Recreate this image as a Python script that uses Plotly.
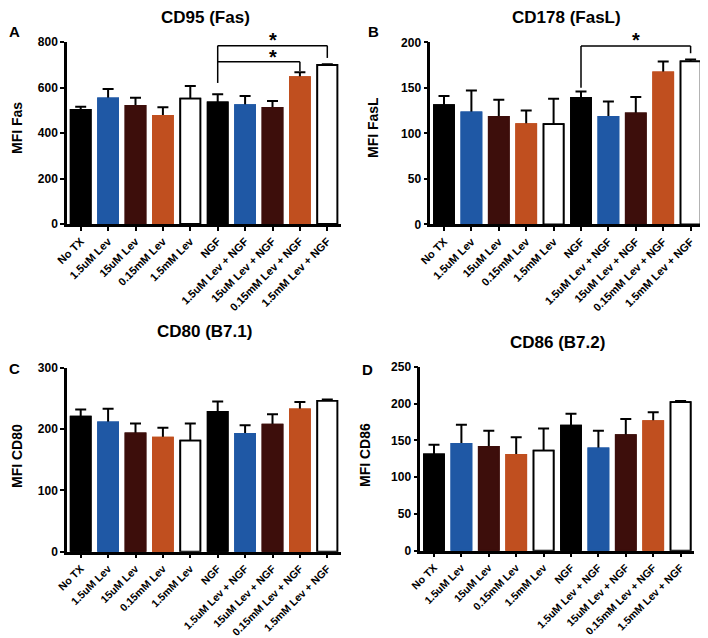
import plotly.graph_objects as go

# treatment groups, left to right
GROUPS = [
    "No TX", "1.5uM Lev", "15uM Lev", "0.15mM Lev", "1.5mM Lev",
    "NGF", "1.5uM Lev + NGF", "15uM Lev + NGF", "0.15mM Lev + NGF", "1.5mM Lev + NGF",
]
BAR_COLORS = ["#000000", "#1f58a5", "#3d0e0b", "#c04f1f", "#ffffff"] * 2

# mean MFI and SEM per panel
FAS_MEAN = [501, 552, 519, 475, 551, 535, 522, 510, 646, 699]
FAS_ERR = [14, 41, 36, 38, 56, 35, 41, 31, 21, 3]

FASL_MEAN = [131, 123, 118, 110, 110, 139, 118, 122, 167, 179]
FASL_ERR = [10, 24, 19, 15, 28, 7, 17, 18, 12, 2]

CD80_MEAN = [220, 211, 193, 186, 181, 228, 192, 207, 232, 246]
CD80_ERR = [12, 22, 16, 16, 28, 17, 14, 17, 12, 2]

CD86_MEAN = [131, 145, 141, 130, 136, 170, 139, 157, 176, 202]
CD86_ERR = [13, 26, 22, 24, 30, 16, 24, 22, 12, 1.5]

FONT = "Liberation Sans, Arial, sans-serif"

# (letter, title, y title, mean, err, y max, dtick, x domain, y domain, title pos, letter pos, ytitle pos, x tick size)
# all positions in window pixels
PANELS = [
    ("A", "CD95 (Fas)", "MFI Fas", FAS_MEAN, FAS_ERR, 800, 200,
     (67, 341), (224, 42), (205, 18), (14, 32), (17, 128), 11),
    ("B", "CD178 (FasL)", "MFI FasL", FASL_MEAN, FASL_ERR, 200, 50,
     (430.3, 704.3), (224.3, 42.3), (566, 18), (373, 32), (373, 128), 11),
    ("C", "CD80 (B7.1)", "MFI CD80", CD80_MEAN, CD80_ERR, 300, 100,
     (67, 341), (551.7, 367.7), (204, 331), (14, 368), (17, 456), 10.6),
    ("D", "CD86 (B7.2)", "MFI CD86", CD86_MEAN, CD86_ERR, 250, 50,
     (420.3, 694.3), (550.7, 366.7), (557, 342), (368, 369), (365, 455), 10.6),
]

# the page body has an 8px margin, so the figure starts at (8, 8)
OFF = 8
W, H = 708 - OFF, 638 - OFF


def px(x):
    return (x - OFF) / W


def py(y):
    return 1 - (y - OFF) / H


def label(x, y, text, size, angle=0, yanchor="middle"):
    fig.add_annotation(x=px(x), y=py(y), xref="paper", yref="paper",
                       xanchor="center", yanchor=yanchor, textangle=angle,
                       text="<b>%s</b>" % text, showarrow=False,
                       font=dict(family=FONT, size=size, color="#000000"))


fig = go.Figure()
layout = {}
x_idx = list(range(len(GROUPS)))
line_cols = ["#000000" if c == "#ffffff" else c for c in BAR_COLORS]

for i, (letter, title, ytitle, mean, err, ymax, dtick, xd, yd, tpos, lpos, ypos, tsize) in enumerate(PANELS):
    n = "" if i == 0 else str(i + 1)
    xa, ya = "x" + n, "y" + n
    # bars with error bars, then the same bars again on top to hide the lower half
    fig.add_trace(go.Bar(
        x=x_idx, y=mean, xaxis=xa, yaxis=ya,
        marker=dict(color=BAR_COLORS, line=dict(color=line_cols, width=1.8)),
        error_y=dict(type="data", array=err, symmetric=True, color="#000000",
                     thickness=2, width=5.5),
        hoverinfo="skip",
    ))
    fig.add_trace(go.Bar(
        x=x_idx, y=mean, xaxis=xa, yaxis=ya,
        marker=dict(color=BAR_COLORS, line=dict(color=line_cols, width=1.8)),
        hoverinfo="skip",
    ))
    layout["xaxis" + n] = dict(
        domain=[px(xd[0]), px(xd[1])], range=[-0.5, 9.5], anchor=ya, automargin=False,
        tickvals=x_idx, ticktext=GROUPS, tickangle=-45,
        tickfont=dict(family=FONT, size=tsize, color="#000000", weight="bold"),
        showline=True, linecolor="#000000", linewidth=2.5,
        ticks="outside", ticklen=4, tickwidth=2, tickcolor="#000000",
        showgrid=False, zeroline=False, fixedrange=True,
    )
    layout["yaxis" + n] = dict(
        domain=[py(yd[0]), py(yd[1])], range=[0, ymax], anchor=xa, automargin=False,
        dtick=dtick, tickfont=dict(family=FONT, size=12, color="#000000", weight="bold"),
        showline=True, linecolor="#000000", linewidth=2.5,
        ticks="outside", ticklen=4, tickwidth=2, tickcolor="#000000",
        showgrid=False, zeroline=False, fixedrange=True,
    )
    label(tpos[0], tpos[1], title, 17)
    label(lpos[0], lpos[1], letter, 15)
    label(ypos[0], ypos[1], ytitle, 14, angle=-90)


def bracket(p, x0, x1, y, y0_drop, y1_drop, star_px):
    n = "" if p == 0 else str(p + 1)
    xa, ya = "x" + n, "y" + n
    seg = dict(type="line", xref=xa, yref=ya, line=dict(color="#000000", width=1.5))
    fig.add_shape(x0=x0, x1=x1, y0=y, y1=y, **seg)
    fig.add_shape(x0=x0, x1=x0, y0=y, y1=y0_drop, **seg)
    fig.add_shape(x0=x1, x1=x1, y0=y, y1=y1_drop, **seg)
    # star sits above the axis range, so place it in paper coordinates
    xd = PANELS[p][7]
    sx = xd[0] + (7 + 0.5) / 10 * (xd[1] - xd[0])
    label(sx, star_px, "*", 20, yanchor="top")


ngf = GROUPS.index("NGF")
# panel A: NGF vs 0.15mM Lev + NGF and NGF vs 1.5mM Lev + NGF
bracket(0, ngf, 9, 784, FAS_MEAN[ngf] + FAS_ERR[ngf] + 50, 730, 27)
bracket(0, ngf, 8, 713, 713, 672, 44)
# panel B: NGF vs 1.5mM Lev + NGF
bracket(1, ngf, 9, 196, 150, 188, 27)

fig.update_layout(
    width=W, height=H, margin=dict(l=0, r=0, t=0, b=0),
    paper_bgcolor="white", plot_bgcolor="white",
    barmode="overlay", bargap=0.27, showlegend=False,
    font=dict(family=FONT, color="#000000"),
    **layout,
)
fig.write_html("out.html")
